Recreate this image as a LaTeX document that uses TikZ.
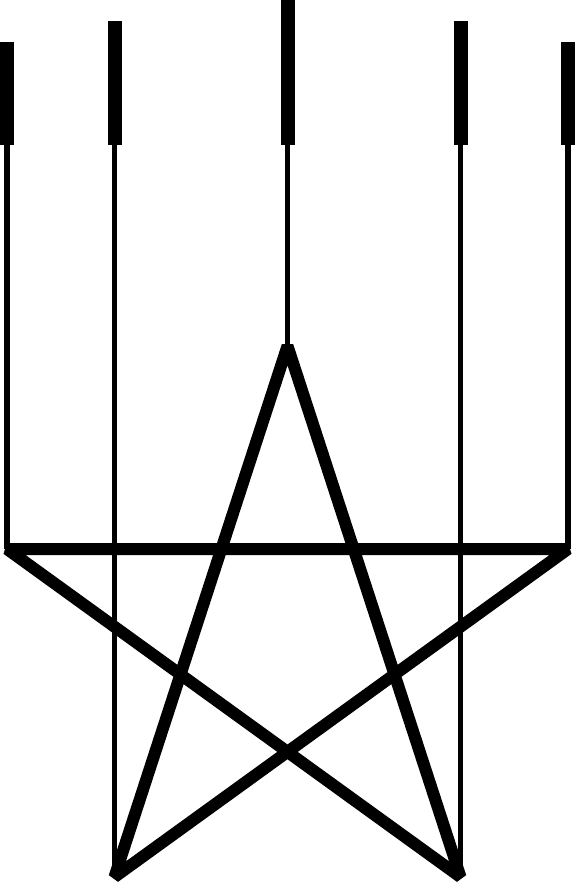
\documentclass[tikz,border=0pt]{standalone}
\begin{document}
\begin{tikzpicture}[x=1pt,y=-1pt,
  starline/.style={line width=12pt,line join=bevel},
  wire/.style={line width=5.5pt},
  plug/.style={fill=black,draw=none}]
\useasboundingbox (0,0) rectangle (575,885);
% star vertices
\coordinate (T) at (287.5,346);
\coordinate (L) at (7,549);
\coordinate (R) at (568,549);
\coordinate (BL) at (114.5,877);
\coordinate (BR) at (460.5,877);
% wire tops
\coordinate (tL) at (7,145);
\coordinate (tBL) at (114.5,145);
\coordinate (tT) at (287.5,145);
\coordinate (tBR) at (460.5,145);
\coordinate (tR) at (568,145);
% wires
\draw[wire] (L) -- (tL);
\draw[wire] (BL) -- (tBL);
\draw[wire] (T) -- (tT);
\draw[wire] (BR) -- (tBR);
\draw[wire] (R) -- (tR);
% star
\draw[starline] (T) -- (BL) -- (R) -- (L) -- (BR) -- cycle;
% plugs
\fill[plug] (0,42) rectangle (13.5,145);
\fill[plug] (107.5,21) rectangle (121.5,145);
\fill[plug] (280.5,0) rectangle (294.5,145);
\fill[plug] (453.5,21) rectangle (467.5,145);
\fill[plug] (561,42) rectangle (575,145);
\end{tikzpicture}
\end{document}
